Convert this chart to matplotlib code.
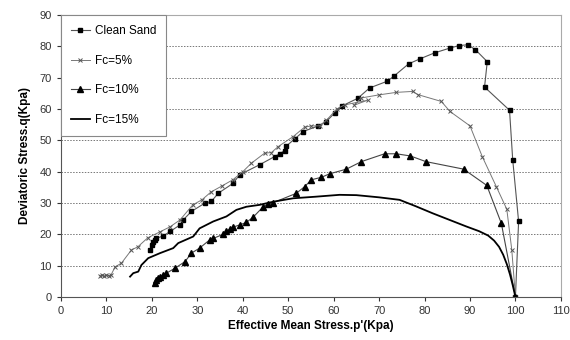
import matplotlib
matplotlib.use("Agg")
import matplotlib.pyplot as plt

plt.rcParams['font.family'] = ['Liberation Sans', 'DejaVu Sans']

clean_p = [19.6, 20.0, 20.3, 20.7, 21.0, 22.5, 24.0, 26.2, 26.9, 28.7, 31.6, 33.1, 34.6, 37.9, 39.3,
           43.7, 47.0, 48.1, 49.2, 49.6, 51.4, 53.3, 56.6, 58.4, 60.2, 61.9, 65.3, 67.9, 71.7, 73.2,
           76.5, 79.0, 82.2, 85.5, 87.5, 89.5, 91.2, 93.8, 93.2, 98.7, 99.4, 100.7, 100.0]
clean_q = [15.0, 16.5, 17.5, 18.3, 18.7, 19.5, 20.9, 23.0, 24.6, 27.3, 29.9, 30.5, 33.1, 36.3, 39.0,
           42.2, 44.8, 45.7, 46.7, 48.2, 50.4, 52.8, 54.6, 56.0, 58.7, 61.0, 63.4, 66.7, 68.8, 70.4,
           74.4, 76.0, 77.9, 79.4, 80.2, 80.5, 78.9, 75.1, 67.0, 59.6, 43.8, 24.1, 0.0]

fc5_p = [8.5, 9.0, 9.5, 10.0, 10.5, 11.0, 11.9, 13.3, 15.5, 16.9, 19.1, 21.8, 24.0, 26.2, 29.0,
         31.0, 33.0, 35.5, 37.8, 40.0, 41.9, 44.8, 46.3, 47.8, 51.1, 53.6, 55.1, 56.9, 58.4, 60.7,
         62.4, 67.5, 64.5, 66.0, 70.0, 73.8, 77.4, 78.5, 83.7, 85.6, 90.0, 92.7, 95.8, 98.1, 99.2, 100.0]
fc5_q = [6.8, 7.0, 6.6, 7.0, 6.8, 7.0, 9.6, 10.8, 15.0, 16.0, 18.9, 20.8, 22.4, 24.6, 29.4,
         31.0, 33.5, 35.5, 37.4, 40.0, 42.7, 45.9, 46.1, 48.0, 51.2, 54.2, 54.6, 54.6, 56.4, 60.0,
         61.3, 62.8, 61.2, 63.5, 64.5, 65.3, 65.6, 64.6, 62.4, 59.2, 54.6, 44.8, 35.2, 28.0, 15.0, 0.0]

fc10_p = [20.7, 21.0, 21.3, 21.8, 22.5, 23.2, 25.1, 27.3, 28.7, 30.5, 32.7, 33.5, 35.7, 36.4, 37.1,
          37.9, 39.3, 40.8, 42.3, 44.5, 45.6, 46.7, 51.8, 53.6, 55.1, 57.3, 59.1, 62.8, 66.1, 71.2,
          73.8, 76.9, 80.3, 88.6, 93.7, 96.9, 100.0]
fc10_q = [4.4, 5.4, 6.0, 6.5, 7.0, 7.6, 9.2, 11.3, 14.0, 15.6, 18.2, 18.7, 20.0, 20.9, 21.6,
          22.3, 23.0, 23.8, 25.5, 28.8, 29.7, 30.1, 33.1, 35.2, 37.4, 38.2, 39.3, 40.8, 43.2, 45.7,
          45.7, 45.0, 43.2, 40.8, 35.6, 23.5, 0.0]

fc15_p = [15.2, 15.9, 17.0, 17.7, 19.2, 21.8, 24.7, 25.8, 29.1, 30.5, 33.5, 36.4, 38.6, 40.8, 43.7,
          46.7, 51.1, 56.0, 61.3, 65.0, 70.0, 74.5, 78.0, 81.8, 85.5, 89.2, 92.0, 94.0, 95.3, 96.4,
          97.3, 98.1, 98.8, 99.4, 100.0]
fc15_q = [6.5, 7.6, 8.1, 10.2, 12.4, 14.0, 15.6, 17.2, 19.3, 21.9, 24.1, 25.7, 27.8, 28.8, 29.4,
          30.4, 31.5, 32.0, 32.6, 32.5, 31.8, 31.0, 29.0, 26.7, 24.6, 22.5, 21.0, 19.6, 18.0, 16.0,
          13.5, 10.5, 7.2, 3.8, 0.0]

x_ticks = list(range(0, 111, 10))
y_ticks = list(range(0, 91, 10))

fig = plt.figure(figsize=(5.7, 3.4), dpi=100)
ax = fig.add_axes([0.107, 0.1265, 0.877, 0.8295])

ax.plot(clean_p, clean_q, color='#555555', lw=0.8, marker='s', ms=2.6,
        mfc='black', mec='black', label='Clean Sand')
ax.plot(fc5_p, fc5_q, color='#777777', lw=0.7, marker='x', ms=2.8, mew=0.7,
        mec='#555555', label='Fc=5%')
ax.plot(fc10_p, fc10_q, color='#444444', lw=0.8, marker='^', ms=3.8,
        mfc='black', mec='black', label='Fc=10%')
ax.plot(fc15_p, fc15_q, color='black', lw=1.3, label='Fc=15%')

ax.set_xlim(0, 110)
ax.set_ylim(0, 90)
ax.set_xticks(x_ticks)
ax.set_yticks(y_ticks)
ax.tick_params(labelsize=8, length=3, width=0.8, colors='#333333', direction='out')
ax.yaxis.grid(True, linestyle=(0, (1.5, 1.5)), color='#777777', lw=0.7)
ax.set_axisbelow(True)

for s in ['left', 'bottom']:
    ax.spines[s].set_color('#555555')
    ax.spines[s].set_linewidth(0.8)
for s in ['top', 'right']:
    ax.spines[s].set_color('#aaaaaa')
    ax.spines[s].set_linewidth(0.8)

ax.set_xlabel("Effective Mean Stress.p'(Kpa)", fontsize=8.5, fontweight='bold', labelpad=3)
ax.set_ylabel("Deviatoric Stress.q(Kpa)", fontsize=8.5, fontweight='bold', labelpad=6)

leg = ax.legend(loc='upper left', bbox_to_anchor=(0, 1), borderaxespad=0, fontsize=8.5,
                labelspacing=1.5, handlelength=1.6, handletextpad=0.4, borderpad=0.85,
                fancybox=False, framealpha=1, edgecolor='#888888')
leg.get_frame().set_linewidth(0.8)

fig.savefig('out.png', dpi=100)
